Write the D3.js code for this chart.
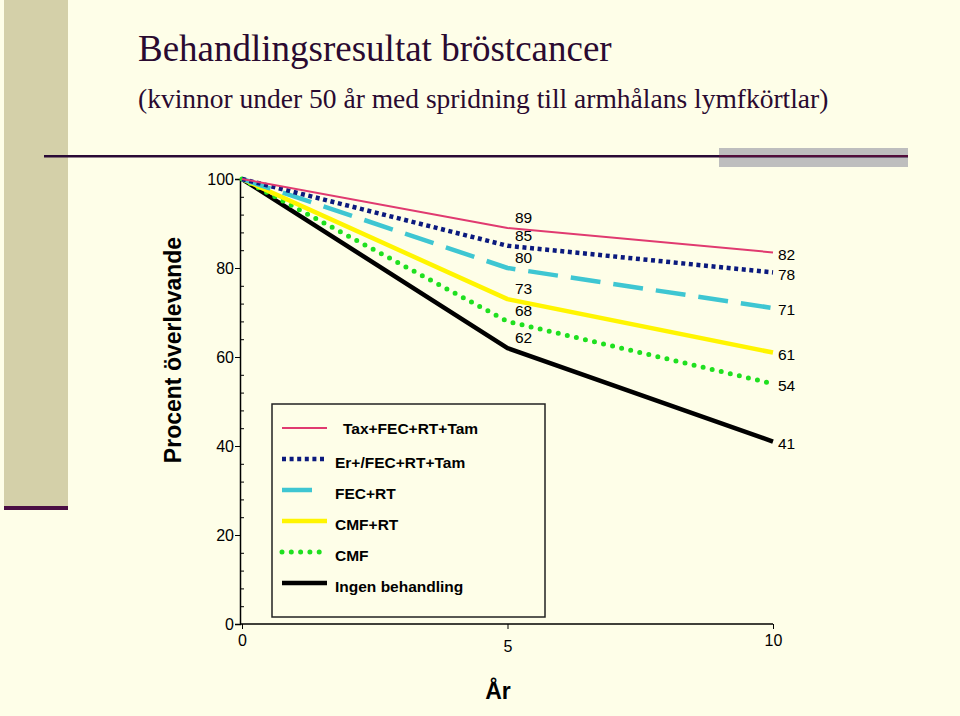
<!DOCTYPE html>
<html><head><meta charset="utf-8">
<script src="https://cdn.jsdelivr.net/npm/d3@7"></script>
<style>
html,body{margin:0;padding:0;background:#FEFEE8;}
svg{display:block;}
</style></head>
<body>
<svg id="c" width="960" height="716"></svg>
<script>
// ---- data ----
const years = [0, 5, 10];
const seriesNames = ["Tax+FEC+RT+Tam", "Er+/FEC+RT+Tam", "FEC+RT", "CMF+RT", "CMF", "Ingen behandling"];
const taxValues   = [100, 89, 83.5];
const erValues    = [100, 85, 79];
const fecValues   = [100, 80, 71];
const cmfrtValues = [100, 73, 61];
const cmfValues   = [100, 68, 54];
const ingenValues = [100, 62, 41];
const labels5yr  = ["89", "85", "80", "73", "68", "62"];
const labels10yr = ["82", "78", "71", "61", "54", "41"];
const yTicks = [0, 20, 40, 60, 80, 100];
const xTicks = [0, 5, 10];
const titleText = "Behandlingsresultat bröstcancer";
const subtitleText = "(kvinnor under 50 år med spridning till armhålans lymfkörtlar)";
const yLabel = "Procent överlevande";
const xLabel = "År";

// ---- styles ----
const styles = [
  {color:"#E03A70", width:2,   dash:null,       cap:"butt"},
  {color:"#0B1A7E", width:4.5, dash:"4,3.6",    cap:"butt"},
  {color:"#3EC6D2", width:4.5, dash:"30,13",    cap:"butt", legendLen:31},
  {color:"#FFF500", width:4.5, dash:null,       cap:"butt"},
  {color:"#1FE01F", width:5,   dash:"0,9.3",    cap:"round"},
  {color:"#000000", width:4.5, dash:null,       cap:"butt"}
];
const allValues = [taxValues, erValues, fecValues, cmfrtValues, cmfValues, ingenValues];
const series = seriesNames.map((n,i)=>({name:n, values:allValues[i], style:styles[i], l5:labels5yr[i], l10:labels10yr[i]}));

const svg = d3.select("#c");
const sans = "'Liberation Sans', Arial, sans-serif";
const serif = "'Liberation Serif', 'Times New Roman', serif";

// background decorations
svg.append("rect").attr("x",0).attr("y",0).attr("width",960).attr("height",716).attr("fill","#FEFEE8");
svg.append("rect").attr("x",4).attr("y",0).attr("width",64).attr("height",507).attr("fill","#D4D0A9");
svg.append("rect").attr("x",4).attr("y",506).attr("width",64).attr("height",4).attr("fill","#4A0E44");
svg.append("rect").attr("x",719).attr("y",148).attr("width",189).attr("height",19).attr("fill","#BEBEBE");
svg.append("rect").attr("x",44).attr("y",155).attr("width",864).attr("height",2.5).attr("fill","#2A0A36");
svg.append("rect").attr("x",719).attr("y",155.5).attr("width",189).attr("height",1).attr("fill","#7A1040");

svg.append("text").attr("x",138).attr("y",61).attr("font-family",serif).attr("font-size",37)
  .attr("fill","#2A0A30").text(titleText);
svg.append("text").attr("x",138).attr("y",108).attr("font-family",serif).attr("font-size",27.5)
  .attr("fill","#2A0A30").text(subtitleText);

// scales
const x = d3.scaleLinear().domain([0,10]).range([242,773]);
const y = d3.scaleLinear().domain([0,100]).range([624,179]);
const axisX0 = 240;

// y axis
const gy = svg.append("g").attr("transform",`translate(${axisX0},0)`)
  .call(d3.axisLeft(y).tickValues(yTicks).tickSize(5).tickPadding(1).tickFormat(d3.format("d")));
gy.selectAll("text").attr("font-family",sans).attr("font-size",16).attr("fill","#000");
gy.select(".domain").attr("stroke","#000").attr("stroke-width",1.5);
const minor = d3.range(0,101,4).filter(v=>v%20!==0);
const gym = svg.append("g").attr("transform",`translate(${axisX0},0)`)
  .call(d3.axisRight(y).tickValues(minor).tickSize(4).tickFormat(""));
gym.select(".domain").remove();

// x axis
const gx = svg.append("g").attr("transform","translate(0,624)")
  .call(d3.axisBottom(x).tickValues(xTicks).tickSize(5).tickPadding(7));
gx.select(".domain").attr("d",`M${axisX0},0H${x(10)}`).attr("stroke","#000").attr("stroke-width",1.5);
gx.selectAll("text").attr("font-family",sans).attr("font-size",16).attr("fill","#000")
  .attr("dy", d=> d===5 ? "1.0em" : "0.65em");

// axis titles
svg.append("text").attr("transform","translate(181,350) rotate(-90)").attr("text-anchor","middle")
  .attr("font-family",sans).attr("font-weight","bold").attr("font-size",23).attr("fill","#000").text(yLabel);
svg.append("text").attr("x",498).attr("y",699).attr("text-anchor","middle")
  .attr("font-family",sans).attr("font-weight","bold").attr("font-size",23).attr("fill","#000").text(xLabel);

// lines
const line = d3.line().x((d,i)=>x(years[i])).y(d=>y(d));
svg.append("g").selectAll("path").data(series.slice().reverse()).join("path")
  .attr("d",d=>line(d.values)).attr("fill","none")
  .attr("stroke",d=>d.style.color).attr("stroke-width",d=>d.style.width)
  .attr("stroke-dasharray",d=>d.style.dash).attr("stroke-linecap",d=>d.style.cap)
  .attr("stroke-linejoin","round");

// value labels
svg.append("g").selectAll("text").data(series).join("text")
  .attr("x",x(5)+16).attr("y",d=>y(d.values[1])-5).attr("text-anchor","middle")
  .attr("font-family",sans).attr("font-size",15.5).attr("fill","#000").text(d=>d.l5);
svg.append("g").selectAll("text").data(series).join("text")
  .attr("x",x(10)+5).attr("y",d=>y(d.values[2])+3).attr("text-anchor","start")
  .attr("dominant-baseline","middle")
  .attr("font-family",sans).attr("font-size",15.5).attr("fill","#000").text(d=>d.l10);

// legend
svg.append("rect").attr("x",272).attr("y",404).attr("width",273).attr("height",213)
  .attr("fill","none").attr("stroke","#222").attr("stroke-width",1.5);
const lg = svg.append("g").selectAll("g").data(series).join("g")
  .attr("transform",(d,i)=>`translate(0,${428 + i*31})`);
lg.append("line").attr("x1",282).attr("x2",d=>282+(d.style.legendLen||45)).attr("y1",0).attr("y2",0)
  .attr("stroke",d=>d.style.color).attr("stroke-width",d=>d.style.width)
  .attr("stroke-dasharray",d=>d.style.dash).attr("stroke-linecap",d=>d.style.cap);
lg.append("text").attr("x",(d,i)=> i===0 ? 343 : 335).attr("y",(d,i)=> i===0 ? 2 : 5)
  .attr("dominant-baseline","middle")
  .attr("font-family",sans).attr("font-weight","bold").attr("font-size",15.5).attr("fill","#000").text(d=>d.name);
</script>
</body></html>
